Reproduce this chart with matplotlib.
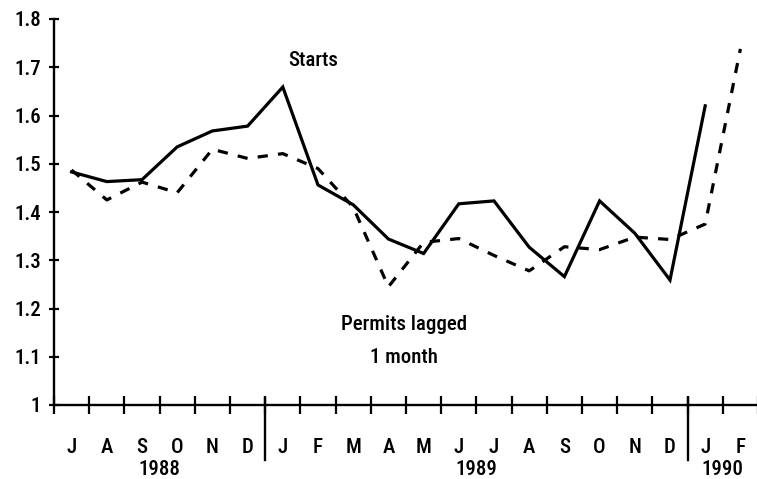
import os
import numpy as np
import matplotlib
matplotlib.use("Agg")
import matplotlib.pyplot as plt
from matplotlib import transforms, font_manager

# ---- pick a condensed sans font if one is installed ----
prefs = ['liberationsansnarrow-regular', 'notosans-condensedmedium', 'robotocondensed-medium',
         'notosans-condensed.', 'notosans-condensed-regular', 'robotocondensed-regular',
         'notosans-semicondensedmedium', 'dejavusanscondensed.']
files = [f.fname for f in font_manager.fontManager.ttflist]
chosen = None
for p in prefs:
    for fn in files:
        if os.path.basename(fn).lower().startswith(p):
            chosen = fn
            break
    if chosen:
        break
if chosen:
    FP = dict(fontproperties=font_manager.FontProperties(fname=chosen, size=15))
else:
    plt.rcParams['font.family'] = ['Liberation Sans', 'DejaVu Sans']
    FP = dict(fontproperties=font_manager.FontProperties(family='Liberation Sans', size=14))

# ---- data ----
months = ['J', 'A', 'S', 'O', 'N', 'D', 'J', 'F', 'M', 'A', 'M', 'J', 'J', 'A', 'S', 'O', 'N', 'D', 'J', 'F']
starts = [1.483, 1.463, 1.467, 1.535, 1.568, 1.578, 1.659, 1.456, 1.415, 1.344, 1.314,
          1.417, 1.423, 1.327, 1.266, 1.423, 1.356, 1.259, 1.620, np.nan]
permits = [1.487, 1.425, 1.462, 1.440, 1.530, 1.511, 1.521, 1.490, 1.410, 1.245, 1.337,
           1.345, 1.310, 1.278, 1.328, 1.322, 1.348, 1.343, 1.375, 1.738]
years = ['1988', '1989', '1990']
year_counts = [6, 12, 2]
ytick_vals = [1.0, 1.1, 1.2, 1.3, 1.4, 1.5, 1.6, 1.7, 1.8]
ytick_labels = ['1', '1.1', '1.2', '1.3', '1.4', '1.5', '1.6', '1.7', '1.8']

fig = plt.figure(figsize=(7.57, 4.79), dpi=100)
ax = fig.add_axes([54/757, (479-405)/479, (758-54)/757, (405-19)/479])

x = np.arange(len(months)) + 0.5
ax.plot(x, starts, color='black', lw=2.3, solid_joinstyle='miter', clip_on=False)
ax.plot(x, permits, color='black', lw=2.3, linestyle=(0, (3.2, 3.2)), clip_on=False)

ax.set_xlim(0, len(months))
ax.set_ylim(1.0, 1.8)

for s in ['top', 'right']:
    ax.spines[s].set_visible(False)
for s in ['left', 'bottom']:
    ax.spines[s].set_linewidth(1.7)
    ax.spines[s].set_color('black')

ax.set_yticks(ytick_vals)
ax.set_yticklabels(ytick_labels, **FP)
ax.tick_params(axis='y', direction='inout', length=6.5, width=1.6, pad=6)

ax.set_xticks(np.arange(len(months) + 1))
ax.set_xticklabels([])
ax.tick_params(axis='x', which='major', direction='inout', length=13, width=1.6)
ax.set_xticks(x, minor=True)
ax.set_xticklabels(months, minor=True, **FP)
ax.tick_params(axis='x', which='minor', length=0, pad=23.5)

# year separators and labels
bounds = np.concatenate([[0], np.cumsum(year_counts)])
for b in bounds[1:-1]:
    ax.axvline(b, ymin=-0.1425, ymax=0.018, color='black', lw=1.7, clip_on=False)
trans = transforms.blended_transform_factory(ax.transData, ax.transAxes)
for yr, a, b in zip(years, bounds[:-1], bounds[1:]):
    ax.text((a + b) / 2, -0.1813, yr, transform=trans, ha='center', va='baseline', **FP)

ax.text(7.36, 1.714, 'Starts', ha='center', va='center', **FP)
ax.text(9.94, 1.1554, 'Permits lagged', ha='center', va='baseline', **FP)
ax.text(9.94, 1.087, '1 month', ha='center', va='baseline', **FP)

fig.savefig('out.png', dpi=100)
